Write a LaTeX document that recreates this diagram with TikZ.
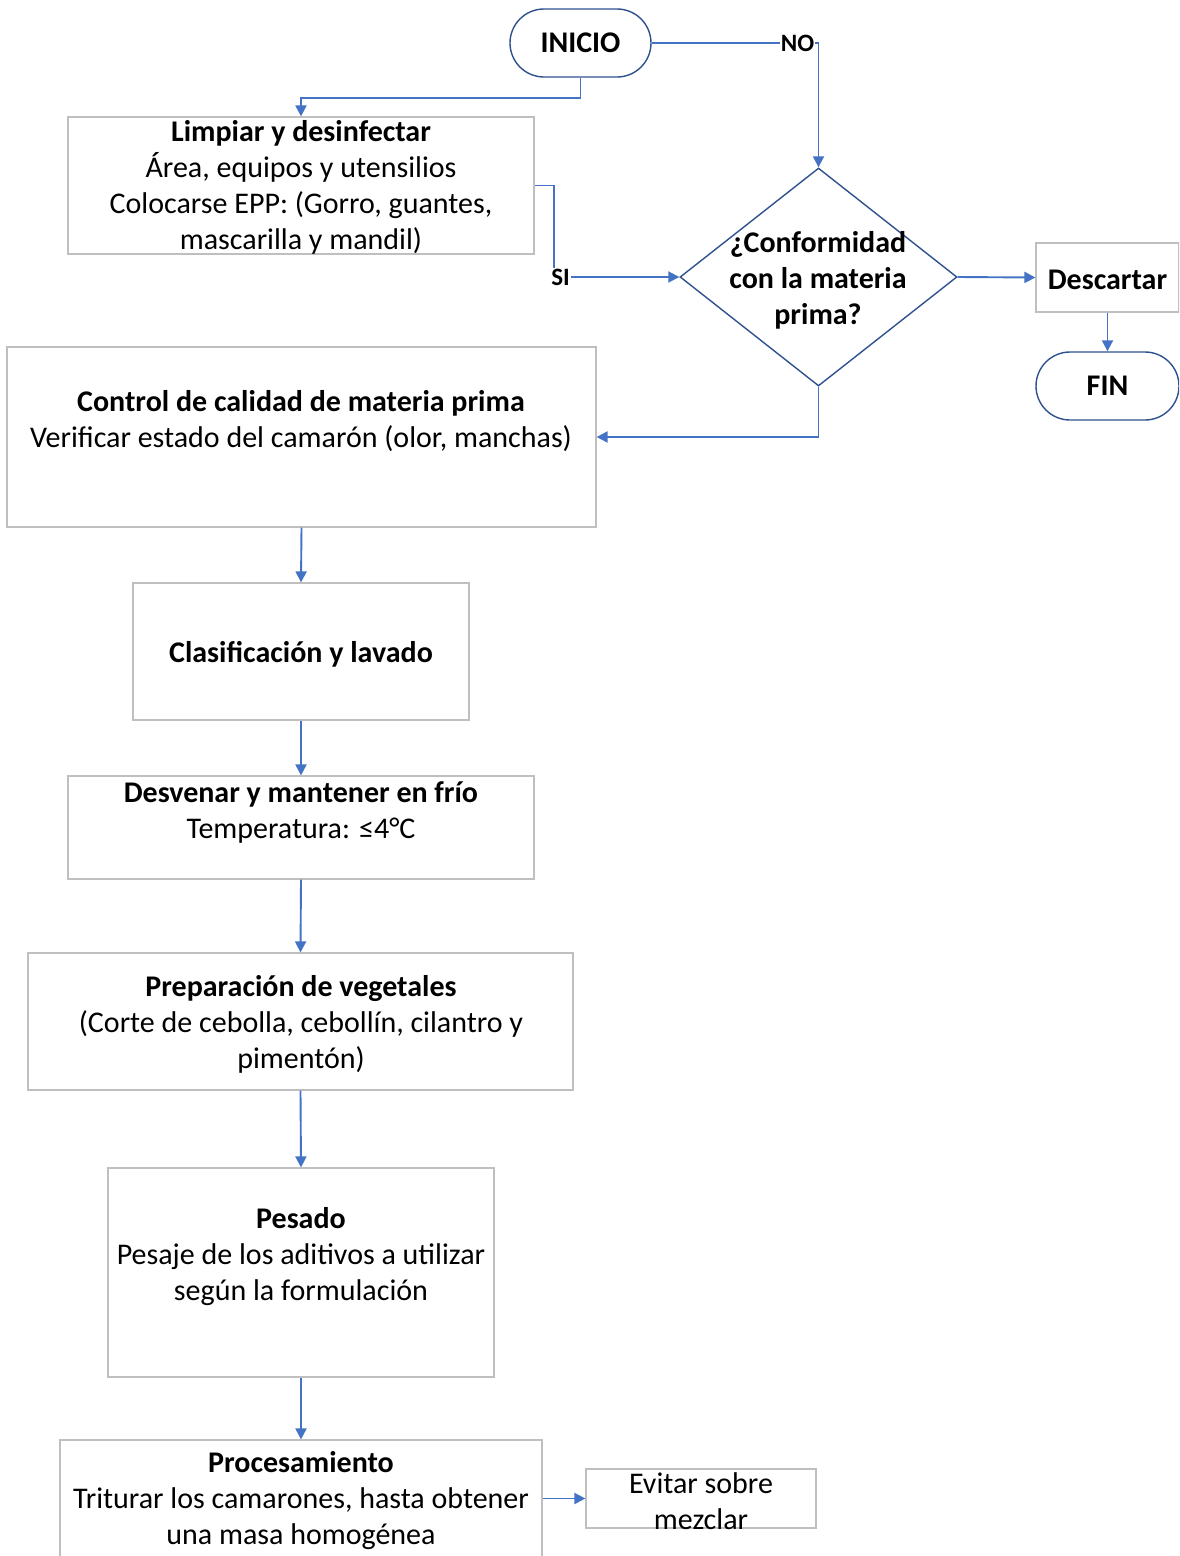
\documentclass[tikz,border=0pt]{standalone}
\usepackage{fontspec}
\setmainfont{Carlito}
\usetikzlibrary{arrows.meta,shapes.geometric}
\definecolor{flow}{HTML}{4472C4}
\definecolor{edge}{HTML}{2F528F}
\definecolor{frame}{HTML}{BFBFBF}
\begin{document}
\begin{tikzpicture}[x=1pt,y=-1pt,
  txt/.style={font=\fontsize{30}{36}\selectfont, align=center, inner sep=0pt},
  btxt/.style={txt, font=\fontsize{30}{36}\selectfont\bfseries},
  box/.style={draw=frame, line width=1.2pt, fill=white, inner sep=0pt},
  term/.style={draw=edge, line width=1.4pt, fill=white, rounded corners=34pt,
    minimum height=68pt, inner sep=0pt, font=\fontsize{30}{36}\selectfont\bfseries},
  decision/.style={diamond, draw=edge, line width=1.4pt, fill=white, inner sep=0pt,
    minimum width=277pt, minimum height=218pt},
  arr/.style={draw=flow, line width=1.9pt, -{Triangle[length=11pt,width=11pt]}},
  lbl/.style={font=\fontsize{25}{28}\selectfont\bfseries, fill=white, inner sep=1pt}
]
\clip (0,0) rectangle (1179,1556);
\fill[white] (0,0) rectangle (1179,1556);

% terminals and decision
\node[term, minimum width=141pt] (start) at (580.5,43) {INICIO};
\node[decision] (dec) at (818.5,277) {};
\node[btxt] (dec-t) at (818,280) {¿Conformidad\\con la materia\\prima?};
\node[box, minimum width=143pt, minimum height=69pt] (desc) at (1107.5,277.5) {};
\node[btxt] (desc-t) at (1107.5,279.5) {Descartar};
\node[term, minimum width=143pt] (fin) at (1107.5,386) {FIN};

% process steps
\node[box, minimum width=466pt, minimum height=137pt] (limp) at (301,185.5) {};
\node[txt] (limp-t) at (301,187.5) {\textbf{Limpiar y desinfectar}\\Área, equipos y utensilios\\Colocarse EPP: (Gorro, guantes,\\mascarilla y mandil)};

\node[box, minimum width=589pt, minimum height=180pt] (ctrl) at (301.5,437) {};
\node[txt] (ctrl-t) at (301,421) {\textbf{Control de calidad de materia prima}\\Verificar estado del camarón (olor, manchas)};

\node[box, minimum width=336pt, minimum height=137pt] (clas) at (301,651.5) {};
\node[btxt] (clas-t) at (301,654) {Clasificación y lavado};

\node[box, minimum width=466pt, minimum height=103pt] (desv) at (301,827.5) {};
\node[txt] (desv-t) at (301,812) {\textbf{Desvenar y mantener en frío}\\Temperatura: ≤4°C};

\node[box, minimum width=545pt, minimum height=137pt] (prep) at (300.5,1021.5) {};
\node[txt] (prep-t) at (301,1024) {\textbf{Preparación de vegetales}\\(Corte de cebolla, cebollín, cilantro y\\pimentón)};

\node[box, minimum width=386pt, minimum height=209pt] (pes) at (301,1272.5) {};
\node[txt] (pes-t) at (301,1257) {\textbf{Pesado}\\Pesaje de los aditivos a utilizar\\según la formulación};

\node[box, minimum width=482pt, minimum height=137pt] (proc) at (301,1508.5) {};
\node[txt] (proc-t) at (301,1501) {\textbf{Procesamiento}\\Triturar los camarones, hasta obtener\\una masa homogénea};

\node[box, minimum width=230pt, minimum height=59pt] (evit) at (701,1498.5) {};
\node[txt] (evit-t) at (701,1501) {Evitar sobre\\mezclar};

% connectors
\draw[arr] (start.south) -- ++(0,20) -| (limp.north);
\draw[arr] (start.east) -| node[lbl, pos=0.437] {NO} (dec.north);
\draw[arr] (limp.east) -- ++(19,0) |- node[lbl, pos=0.5, xshift=7pt] {SI} (dec.west);
\draw[arr] (dec.east) -- (desc.west);
\draw[arr] (desc.south) -- (fin.north);
\draw[arr] (dec.south) |- (ctrl.east);
\draw[arr] (ctrl.south) -- (clas.north);
\draw[arr] (clas.south) -- (desv.north);
\draw[arr] (desv.south) -- (prep.north);
\draw[arr] (prep.south) -- (pes.north);
\draw[arr] (pes.south) -- (proc.north);
\draw[arr] (proc.east |- evit.west) -- (evit.west);
\end{tikzpicture}
\end{document}
